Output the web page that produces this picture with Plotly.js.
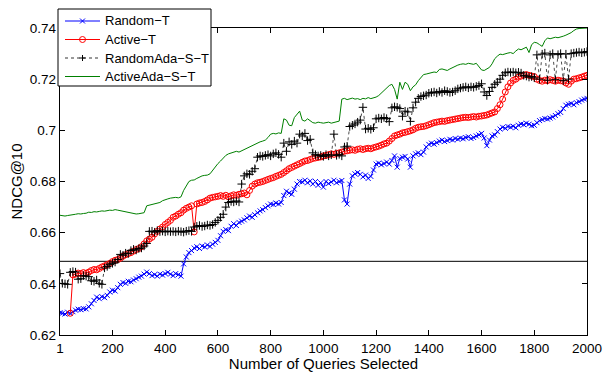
<!DOCTYPE html>
<html>
<head>
<meta charset="utf-8">
<script src="https://cdn.plot.ly/plotly-3.0.1.min.js"></script>
<style>html,body{margin:0;padding:0;background:#fff;}#chart{width:603px;height:372px;}</style>
</head>
<body>
<div id="chart"></div>
<script>
// Number of queries selected (sample points)
const queries = [1,
10,20,30,40,50,60,70,80,90,100,
110,120,130,140,150,160,170,180,190,200,
210,220,230,240,250,260,270,280,290,300,
310,320,330,340,350,360,370,380,390,400,
410,420,430,440,450,460,470,480,490,500,
510,520,530,540,550,560,570,580,590,600,
610,620,630,640,650,660,670,680,690,700,
710,720,730,740,750,760,770,780,790,800,
810,820,830,840,850,860,870,880,890,900,
910,920,930,940,950,960,970,980,990,1000,
1010,1020,1030,1040,1050,1060,1070,1080,1090,1100,
1110,1120,1130,1140,1150,1160,1170,1180,1190,1200,
1210,1220,1230,1240,1250,1260,1270,1280,1290,1300,
1310,1320,1330,1340,1350,1360,1370,1380,1390,1400,
1410,1420,1430,1440,1450,1460,1470,1480,1490,1500,
1510,1520,1530,1540,1550,1560,1570,1580,1590,1600,
1610,1620,1630,1640,1650,1660,1670,1680,1690,1700,
1710,1720,1730,1740,1750,1760,1770,1780,1790,1800,
1810,1820,1830,1840,1850,1860,1870,1880,1890,1900,
1910,1920,1930,1940,1950,1960,1970,1980,1990,2000];

const randomT = [0.6287,
0.6285,0.6282,0.6289,0.6284,0.6291,0.6297,0.6301,0.6299,0.6303,0.6302,
0.6310,0.6322,0.6335,0.6348,0.6342,0.6350,0.6346,0.6355,0.6368,0.6375,
0.6372,0.6385,0.6398,0.6405,0.6402,0.6410,0.6408,0.6415,0.6420,0.6426,
0.6430,0.6438,0.6446,0.6440,0.6432,0.6436,0.6430,0.6438,0.6434,0.6440,
0.6445,0.6438,0.6432,0.6440,0.6436,0.6430,0.6478,0.6505,0.6522,0.6530,
0.6540,0.6545,0.6538,0.6548,0.6544,0.6552,0.6546,0.6555,0.6562,0.6570,
0.6588,0.6605,0.6612,0.6608,0.6625,0.6635,0.6628,0.6640,0.6645,0.6650,
0.6658,0.6665,0.6660,0.6670,0.6678,0.6685,0.6690,0.6698,0.6705,0.6712,
0.6710,0.6716,0.6712,0.6718,0.6745,0.6762,0.6755,0.6750,0.6770,0.6790,
0.6800,0.6798,0.6805,0.6795,0.6802,0.6790,0.6800,0.6785,0.6795,0.6778,
0.6800,0.6792,0.6798,0.6805,0.6795,0.6800,0.6804,0.6728,0.6712,0.6790,
0.6822,0.6830,0.6835,0.6828,0.6818,0.6825,0.6812,0.6820,0.6845,0.6868,
0.6872,0.6865,0.6870,0.6876,0.6868,0.6882,0.6900,0.6856,0.6890,0.6895,
0.6898,0.6888,0.6856,0.6900,0.6908,0.6912,0.6905,0.6915,0.6935,0.6945,
0.6950,0.6946,0.6952,0.6958,0.6962,0.6956,0.6960,0.6965,0.6962,0.6968,
0.6965,0.6970,0.6967,0.6972,0.6975,0.6968,0.6972,0.6978,0.6982,0.6988,
0.6970,0.6940,0.6962,0.6978,0.6982,0.6995,0.7005,0.7012,0.7008,0.7015,
0.7012,0.7016,0.7010,0.7020,0.7025,0.7022,0.7028,0.7024,0.7018,0.7020,
0.7030,0.7038,0.7042,0.7046,0.7044,0.7048,0.7052,0.7058,0.7065,0.7070,
0.7085,0.7098,0.7102,0.7105,0.7100,0.7108,0.7112,0.7118,0.7122,0.7125];

const activeT = [null,
null,null,null,0.6285,0.6435,0.6438,0.6442,0.6440,0.6444,0.6441,
0.6446,0.6452,0.6456,0.6455,0.6460,0.6466,0.6470,0.6475,0.6480,0.6487,
0.6492,0.6495,0.6500,0.6508,0.6514,0.6518,0.6522,0.6528,0.6534,0.6538,
0.6545,0.6556,0.6568,0.6575,0.6582,0.6595,0.6605,0.6614,0.6622,0.6632,
0.6640,0.6648,0.6660,0.6665,0.6672,0.6678,0.6688,0.6695,0.6700,0.6705,
0.6603,0.6712,0.6716,0.6718,0.6722,0.6728,0.6735,0.6738,0.6740,0.6742,
0.6745,0.6742,0.6746,0.6740,0.6744,0.6748,0.6746,0.6750,0.6752,0.6755,
0.6748,0.6765,0.6782,0.6790,0.6795,0.6797,0.6800,0.6804,0.6808,0.6812,
0.6815,0.6820,0.6824,0.6828,0.6835,0.6842,0.6850,0.6855,0.6860,0.6865,
0.6870,0.6875,0.6880,0.6882,0.6886,0.6890,0.6892,0.6894,0.6896,0.6900,
0.6902,0.6905,0.6908,0.6906,0.6910,0.6912,0.6915,0.6918,0.6920,0.6922,
0.6924,0.6922,0.6926,0.6928,0.6925,0.6928,0.6930,0.6928,0.6932,0.6935,
0.6938,0.6942,0.6947,0.6950,0.6958,0.6968,0.6978,0.6982,0.6985,0.6990,
0.6992,0.6995,0.6998,0.7002,0.7008,0.7012,0.7014,0.7015,0.7018,0.7022,
0.7026,0.7030,0.7032,0.7034,0.7036,0.7035,0.7038,0.7040,0.7042,0.7044,
0.7046,0.7048,0.7050,0.7051,0.7050,0.7052,0.7054,0.7052,0.7055,0.7056,
0.7058,0.7060,0.7064,0.7068,0.7072,0.7085,0.7100,0.7122,0.7150,0.7170,
0.7185,0.7195,0.7200,0.7208,0.7212,0.7216,0.7218,0.7215,0.7212,0.7210,
0.7200,0.7195,0.7192,0.7196,0.7194,0.7198,0.7195,0.7192,0.7196,0.7194,
0.7192,0.7185,0.7180,0.7192,0.7200,0.7202,0.7205,0.7208,0.7212,0.7215];

const randomAdaST = [0.6440,
0.6402,0.6400,0.6398,0.6445,0.6448,0.6446,0.6418,0.6420,0.6432,0.6430,
0.6428,0.6412,0.6410,0.6415,0.6402,0.6398,0.6462,0.6468,0.6475,0.6480,
0.6485,0.6495,0.6515,0.6512,0.6520,0.6518,0.6530,0.6535,0.6532,0.6538,
0.6540,0.6548,0.6558,0.6605,0.6606,0.6602,0.6608,0.6604,0.6606,0.6603,
0.6606,0.6604,0.6605,0.6603,0.6606,0.6604,0.6602,0.6606,0.6608,0.6605,
0.6622,0.6625,0.6628,0.6624,0.6626,0.6630,0.6628,0.6632,0.6640,0.6648,
0.6660,0.6672,0.6700,0.6718,0.6722,0.6720,0.6724,0.6720,0.6790,0.6822,
0.6830,0.6828,0.6840,0.6850,0.6895,0.6900,0.6898,0.6902,0.6905,0.6900,
0.6908,0.6912,0.6906,0.6895,0.6950,0.6918,0.6955,0.6945,0.6958,0.6950,
0.6985,0.6978,0.6988,0.6960,0.6965,0.6912,0.6905,0.6900,0.6902,0.6898,
0.6905,0.6900,0.6904,0.6985,0.6902,0.6906,0.6900,0.6935,0.6938,0.7015,
0.7020,0.7025,0.7032,0.7040,0.7090,0.7005,0.7008,0.7004,0.7010,0.7045,
0.7048,0.7045,0.7050,0.7046,0.7034,0.7088,0.7092,0.7090,0.7085,0.7055,
0.7075,0.7072,0.7035,0.7088,0.7110,0.7125,0.7132,0.7135,0.7138,0.7145,
0.7148,0.7150,0.7146,0.7152,0.7148,0.7155,0.7152,0.7148,0.7150,0.7155,
0.7162,0.7165,0.7168,0.7170,0.7166,0.7170,0.7168,0.7172,0.7175,0.7182,
0.7150,0.7136,0.7152,0.7168,0.7180,0.7188,0.7200,0.7215,0.7225,0.7228,
0.7226,0.7228,0.7225,0.7227,0.7224,0.7215,0.7212,0.7208,0.7210,0.7205,
0.7295,0.7200,0.7298,0.7302,0.7196,0.7295,0.7300,0.7198,0.7296,0.7300,
0.7194,0.7298,0.7200,0.7300,0.7302,0.7304,0.7306,0.7303,0.7305,0.7308];

const activeAdaST = [0.6668,
0.6666,0.6665,0.6667,0.6668,0.6670,0.6672,0.6674,0.6673,0.6675,0.6676,
0.6680,0.6679,0.6682,0.6681,0.6683,0.6685,0.6684,0.6686,0.6688,0.6687,
0.6690,0.6688,0.6686,0.6684,0.6680,0.6678,0.6676,0.6674,0.6673,0.6674,
0.6675,0.6678,0.6705,0.6708,0.6710,0.6714,0.6716,0.6718,0.6725,0.6730,
0.6732,0.6735,0.6736,0.6738,0.6736,0.6740,0.6765,0.6785,0.6800,0.6805,
0.6806,0.6812,0.6818,0.6822,0.6824,0.6825,0.6830,0.6845,0.6858,0.6870,
0.6880,0.6892,0.6902,0.6908,0.6912,0.6915,0.6918,0.6915,0.6920,0.6925,
0.6932,0.6936,0.6940,0.6946,0.6950,0.6955,0.6958,0.6962,0.6972,0.6985,
0.6988,0.6986,0.6990,0.6988,0.7045,0.7040,0.7020,0.7018,0.7050,0.7062,
0.7075,0.7040,0.7036,0.7045,0.7038,0.7030,0.7028,0.7032,0.7030,0.7028,
0.7030,0.7032,0.7028,0.7030,0.7034,0.7036,0.7122,0.7125,0.7120,0.7124,
0.7126,0.7122,0.7124,0.7120,0.7125,0.7123,0.7128,0.7124,0.7126,0.7130,
0.7136,0.7145,0.7155,0.7165,0.7175,0.7180,0.7160,0.7122,0.7188,0.7160,
0.7188,0.7180,0.7155,0.7170,0.7178,0.7194,0.7205,0.7218,0.7220,0.7222,
0.7225,0.7228,0.7226,0.7238,0.7240,0.7236,0.7234,0.7240,0.7246,0.7250,
0.7255,0.7258,0.7260,0.7258,0.7262,0.7260,0.7258,0.7262,0.7250,0.7236,
0.7234,0.7240,0.7246,0.7260,0.7280,0.7290,0.7298,0.7296,0.7300,0.7302,
0.7304,0.7300,0.7310,0.7318,0.7315,0.7320,0.7325,0.7304,0.7335,0.7344,
0.7342,0.7335,0.7328,0.7350,0.7361,0.7358,0.7360,0.7364,0.7362,0.7364,
0.7368,0.7372,0.7376,0.7382,0.7390,0.7396,0.7398,0.7399,0.7400,0.7400];

// Horizontal reference level
const baselineX = [1, 2000];
const baselineY = [0.6488, 0.6488];

const seriesNames = ['Random\u2212T', 'Active\u2212T', 'RandomAda\u2212S\u2212T', 'ActiveAda\u2212S\u2212T'];

const xTickVals = [1, 200, 400, 600, 800, 1000, 1200, 1400, 1600, 1800, 2000];
const xTickText = ['1','200','400','600','800','1000','1200','1400','1600','1800','2000'];
const yTickVals = [0.62, 0.64, 0.66, 0.68, 0.70, 0.72, 0.74];
const yTickText = ['0.62','0.64','0.66','0.68','0.7','0.72','0.74'];

const BLUE = '#0000ff', RED = '#ff0000', BLACK = '#000000', GREEN = '#008000';

const traces = [
  {x: baselineX, y: baselineY, mode: 'lines', line: {color: BLACK, width: 1}, showlegend: false, hoverinfo: 'skip'},
  {x: queries, y: randomT, name: seriesNames[0], mode: 'lines+markers', showlegend: false,
   line: {color: BLUE, width: 1},
   marker: {symbol: 'x-thin', size: 5, color: BLUE, line: {color: BLUE, width: 1}}},
  {x: queries, y: activeT, name: seriesNames[1], mode: 'lines+markers', showlegend: false,
   line: {color: RED, width: 1},
   marker: {symbol: 'circle-open', size: 6, color: RED, line: {color: RED, width: 1}}},
  {x: queries, y: randomAdaST, name: seriesNames[2], mode: 'lines+markers', showlegend: false,
   line: {color: BLACK, width: 0.7, dash: 'dot'},
   marker: {symbol: 'cross-thin', size: 6, color: BLACK, line: {color: BLACK, width: 1}}},
  {x: queries, y: activeAdaST, name: seriesNames[3], mode: 'lines', showlegend: false,
   line: {color: GREEN, width: 1}}
];

// ---- Legend drawn as a boxed key (paper coordinates of the plot area) ----
const plotL = 60, plotT = 28, plotW = 527, plotH = 307;
const px2x = p => (p - plotL) / plotW;
const py2y = p => (plotT + plotH - p) / plotH;
const legRows = [21, 39.5, 58, 76.5];
const legColors = [BLUE, RED, BLACK, GREEN];
const legDash = ['solid', 'solid', 'dot', 'solid'];
const legMarker = ['x', 'circle', 'plus', null];

const shapes = [{
  type: 'rect', xref: 'paper', yref: 'paper', layer: 'above',
  x0: px2x(58), x1: px2x(211), y0: py2y(86), y1: py2y(9),
  fillcolor: '#ffffff', line: {color: BLACK, width: 1}
}];
const annotations = [];
seriesNames.forEach((nm, i) => {
  const yy = py2y(legRows[i]);
  shapes.push({type: 'line', xref: 'paper', yref: 'paper', layer: 'above',
    x0: px2x(65), x1: px2x(100), y0: yy, y1: yy,
    line: {color: legColors[i], width: i === 2 ? 0.8 : 1, dash: legDash[i]}});
  const base = {xref: 'paper', yref: 'paper', layer: 'above', xsizemode: 'pixel', ysizemode: 'pixel',
    xanchor: px2x(82.5), yanchor: yy, line: {color: legColors[i], width: 1}};
  if (legMarker[i] === 'x') {
    shapes.push(Object.assign({}, base, {type: 'path', path: 'M-2.5,-2.5L2.5,2.5M-2.5,2.5L2.5,-2.5'}));
  } else if (legMarker[i] === 'circle') {
    shapes.push(Object.assign({}, base, {type: 'circle', x0: -3, x1: 3, y0: -3, y1: 3}));
  } else if (legMarker[i] === 'plus') {
    shapes.push(Object.assign({}, base, {type: 'path', path: 'M-3,0L3,0M0,-3L0,3'}));
  }
  annotations.push({xref: 'paper', yref: 'paper', x: px2x(104), y: yy,
    xanchor: 'left', yanchor: 'middle', text: nm, showarrow: false,
    font: {size: 13, color: BLACK}, borderpad: 0});
});

const axisCommon = {
  ticks: 'inside', ticklen: 5, tickwidth: 1, tickcolor: BLACK,
  showline: true, linecolor: BLACK, linewidth: 1.3, mirror: 'ticks',
  showgrid: false, zeroline: false, automargin: false,
  tickfont: {size: 13.5, color: BLACK}
};

const layout = {
  width: 603, height: 372,
  margin: {l: plotL, r: 603 - plotL - plotW, t: plotT, b: 372 - plotT - plotH, pad: 0},
  paper_bgcolor: '#fff', plot_bgcolor: '#fff',
  font: {family: '"Liberation Sans", Arial, Helvetica, sans-serif', size: 13.5, color: BLACK},
  xaxis: Object.assign({}, axisCommon, {
    range: [1, 2000], tickmode: 'array', tickvals: xTickVals, ticktext: xTickText,
    title: {text: 'Number of Queries Selected', font: {size: 15}, standoff: 2}
  }),
  yaxis: Object.assign({}, axisCommon, {
    range: [0.62, 0.74], tickmode: 'array', tickvals: yTickVals, ticktext: yTickText,
    title: {text: 'NDCG@10', font: {size: 15}, standoff: 3}
  }),
  shapes: shapes,
  annotations: annotations,
  showlegend: false
};

Plotly.newPlot('chart', traces, layout, {staticPlot: true, displayModeBar: false});
</script>
</body>
</html>
